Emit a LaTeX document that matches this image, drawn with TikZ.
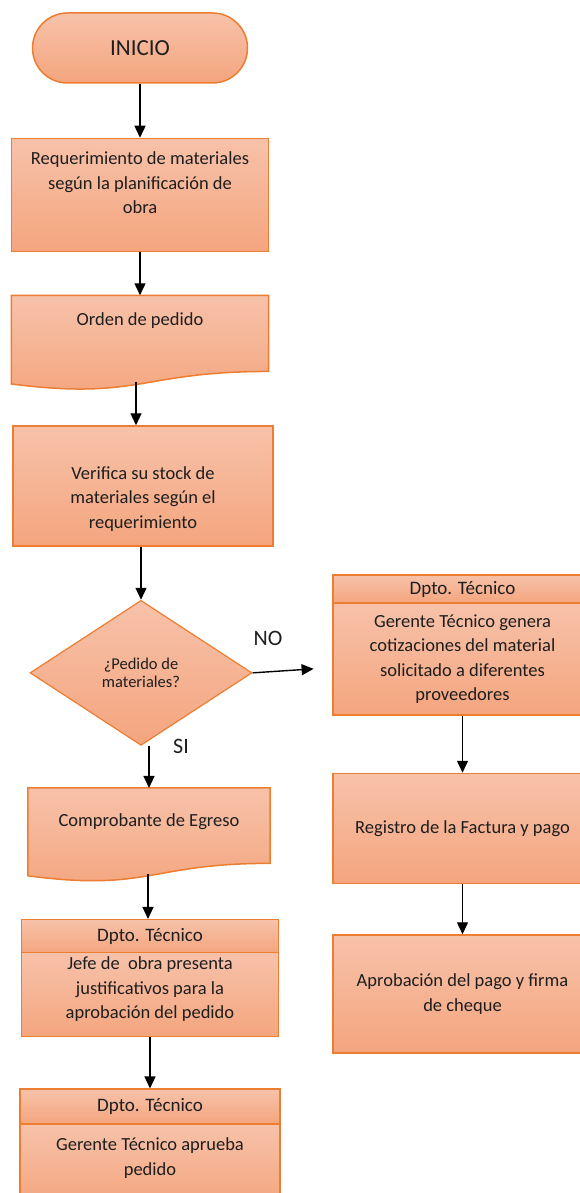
\documentclass[tikz,border=0pt]{standalone}
\usepackage{fontspec}
\setmainfont{Carlito}
\usepackage{tikz}
\usetikzlibrary{shapes.geometric, arrows.meta, positioning, calc, backgrounds}
\definecolor{borde}{RGB}{237,125,49}
\definecolor{claro}{RGB}{247,194,170}
\definecolor{oscuro}{RGB}{244,165,126}
\definecolor{texto}{RGB}{30,30,30}
\tikzstyle{startstop} = [rectangle,
rounded corners=35pt,
minimum width=215pt,
minimum height=70pt,
draw=borde, line width=1.5pt,
top color=claro, bottom color=oscuro,
text=texto, font=\fontsize{23}{28}\selectfont]
\tikzstyle{process} = [rectangle,
align=center,
draw=borde, line width=1.5pt,
top color=claro, bottom color=oscuro,
text=texto, font=\fontsize{18.5}{24.5}\selectfont]
\tikzstyle{head} = [process, font=\fontsize{19}{22}\selectfont]
\tikzstyle{doctext} = [rectangle, align=center,
text=texto, font=\fontsize{18.5}{24.5}\selectfont]
\tikzstyle{docfill} = [draw=borde, line width=1.5pt,
top color=claro, bottom color=oscuro]
\tikzstyle{decision} = [diamond,
minimum width=222pt,
minimum height=145pt,
inner sep=0pt, align=center,
draw=borde, line width=1.2pt,
top color=claro, bottom color=oscuro,
text=texto, font=\fontsize{16.5}{18}\selectfont]
\tikzstyle{lbl} = [text=texto, font=\fontsize{22}{26}\selectfont]
\tikzstyle{arrow} = [line width=1.4pt,->,>={Triangle[width=11pt,length=12pt]}]
% hoja con borde ondulado (documento)
\newcommand{\docshape}[2]{%
  \begin{scope}[on background layer]
    \draw[docfill] (#1.north west) -- (#1.north east)
      -- ($(#1.north east)+(0,0.802*#2)$)
      .. controls ($(#1.north)+(0,0.802*#2)$) and ($(#1.north)+(0,1.107*#2)$)
      .. ($(#1.north west)+(0,0.934*#2)$) -- cycle;
  \end{scope}}

\begin{document}
\begin{tikzpicture}[x=1pt, y=-1pt, node distance=2cm]
\useasboundingbox (0,0) rectangle (579,1193);

% columna izquierda
\node (inicio) [startstop] at (140,48) {INICIO};
\node (req) [process, below=54pt of inicio, minimum width=257pt, minimum height=113pt,
  text height=40pt, text depth=3pt] {Requerimiento de materiales\\según la planificación de\\obra};
\node (orden) [doctext, below=43pt of req, minimum width=257pt, minimum height=50pt] {Orden de pedido};
\docshape{orden}{95}
\coordinate (orden-b) at ($(orden.north)+(-4,87)$);
\node (verifica) [process, below=43pt of orden-b, xshift=7pt, minimum width=260pt, minimum height=120pt,
  text height=86pt, text depth=2pt] {Verifica su stock de\\materiales según el\\requerimiento};
\node (dec) [decision, below=53pt of verifica, xshift=-2pt] {¿Pedido de\\materiales?};
\node (comprob) [doctext, below=42pt of dec, xshift=8pt, minimum width=242pt, minimum height=68pt] {Comprobante de Egreso};
\docshape{comprob}{94}
\coordinate (comprob-b) at ($(comprob.north)+(-1,86)$);
\node (jefe-h) [head, below=45pt of comprob-b, xshift=2pt, minimum width=257pt, minimum height=33pt] {Dpto. Técnico};
\node (jefe) [process, below=-1.5pt of jefe-h, minimum width=257pt, minimum height=84pt,
  text height=50pt, text depth=2pt] {Jefe de\ \ obra presenta\\justificativos para la\\aprobación del pedido};
\node (aprueba-h) [head, below=51pt of jefe, minimum width=260pt, minimum height=35pt] {Dpto. Técnico};
\node (aprueba) [process, below=-1.5pt of aprueba-h, minimum width=260pt, minimum height=82pt,
  text height=22pt, text depth=2pt] {Gerente Técnico aprueba\\pedido};

% columna derecha
\node (cotiz-h) [head, minimum width=259pt, minimum height=28pt] at (462.5,589) {Dpto. Técnico};
\node (cotiz) [process, below=-1.5pt of cotiz-h, minimum width=259pt, minimum height=112pt] {Gerente Técnico genera\\cotizaciones del material\\solicitado a diferentes\\proveedores};
\node (registro) [process, below=57pt of cotiz, minimum width=259pt, minimum height=110pt] {Registro de la Factura y pago};
\node (aprob) [process, below=50pt of registro, minimum width=259pt, minimum height=118pt] {Aprobación del pago y firma\\de cheque};

\coordinate (no-fin) at ($(dec.east)+(61,-4)$);
\node (lbl-no) [lbl] at (268,638) {NO};
\node (lbl-si) [lbl] at (181,746) {SI};

\draw [arrow] (inicio) -- (req);
\draw [arrow] (req) -- (orden);
\draw [arrow] (orden-b) -- (orden-b |- verifica.north);
\draw [arrow] (dec.north |- verifica.south) -- (dec);
\draw [arrow] (dec.east) -- (no-fin);
\draw [arrow] (comprob.north |- dec.south) -- (comprob.north);
\draw [arrow] (comprob-b) -- (comprob-b |- jefe-h.north);
\draw [arrow] (jefe) -- (aprueba-h);
\draw [arrow] (cotiz) -- (registro);
\draw [arrow] (registro) -- (aprob);
\end{tikzpicture}
\end{document}
